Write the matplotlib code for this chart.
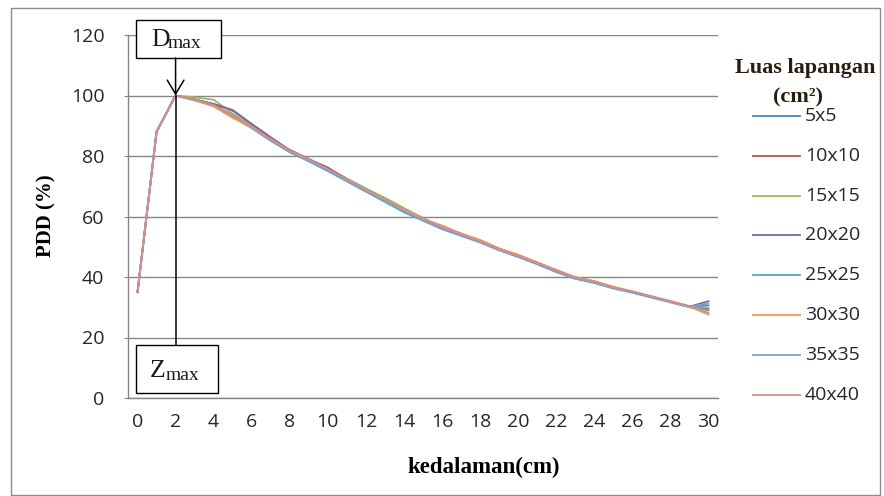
import matplotlib
matplotlib.use("Agg")
import matplotlib.pyplot as plt
from matplotlib.patches import Rectangle
from matplotlib.lines import Line2D

depth = list(range(0, 31))
tick_labels = [str(v) for v in range(0, 31, 2)]
field_sizes = ["5x5", "10x10", "15x15", "20x20", "25x25", "30x30", "35x35", "40x40"]

pdd_5x5 = [35, 88, 100, 98.8, 97.2, 95.0, 90.5, 86.0, 82.0, 79.0, 76.0, 72.5, 69.2, 65.8, 62.5, 59.5,
           56.2, 54.2, 52.0, 49.4, 47.2, 44.8, 42.0, 39.9, 38.6, 36.6, 35.0, 33.6, 32.0, 30.3, 30.6]
pdd_10x10 = [35, 88, 100, 98.5, 97.0, 93.5, 89.8, 85.8, 82.0, 79.0, 75.8, 72.4, 69.0, 65.8, 62.2, 59.2,
             56.8, 54.2, 52.0, 49.2, 47.2, 44.6, 42.0, 39.6, 38.4, 36.6, 35.2, 33.4, 31.8, 30.2, 29.6]
pdd_15x15 = [35, 88, 100, 99.4, 98.6, 94.0, 90.2, 85.8, 82.0, 79.0, 75.8, 72.4, 69.2, 66.2, 62.8, 59.4,
             56.6, 54.4, 52.2, 49.4, 47.0, 44.6, 42.0, 39.8, 38.4, 36.6, 35.2, 33.6, 32.0, 30.4, 29.2]
pdd_20x20 = [35, 88, 100, 98.6, 97.2, 95.2, 90.6, 86.2, 81.8, 78.8, 76.2, 72.2, 68.8, 65.6, 62.2, 59.0,
             56.2, 54.0, 51.8, 49.0, 47.0, 44.8, 42.2, 39.8, 38.4, 36.6, 35.0, 33.4, 31.8, 30.2, 32.0]
pdd_25x25 = [35, 88, 100, 98.4, 96.6, 93.0, 89.2, 85.0, 81.2, 78.2, 75.0, 71.6, 68.2, 64.8, 61.4, 58.6,
             55.8, 53.6, 51.4, 48.8, 46.6, 44.2, 41.6, 39.4, 38.0, 36.2, 34.8, 33.2, 31.6, 30.0, 29.0]
pdd_30x30 = [35, 88, 100, 98.4, 96.4, 92.6, 89.4, 85.4, 81.6, 78.6, 75.6, 72.2, 68.8, 65.6, 62.4, 59.2,
             57.0, 54.4, 52.2, 49.4, 47.4, 44.8, 42.4, 40.0, 38.6, 36.8, 35.2, 33.6, 32.0, 30.2, 27.6]
pdd_35x35 = [35, 88, 100, 98.6, 96.8, 93.4, 89.6, 85.4, 81.6, 78.6, 75.4, 72.0, 68.6, 65.4, 62.0, 59.0,
             56.0, 53.8, 51.6, 49.0, 46.8, 44.4, 41.8, 39.6, 38.2, 36.4, 35.0, 33.4, 31.8, 30.2, 31.2]
pdd_40x40 = [35, 88, 100, 98.6, 96.8, 93.6, 89.6, 85.6, 81.8, 78.8, 75.6, 72.2, 68.8, 65.6, 62.2, 59.2,
             56.6, 54.2, 51.8, 49.2, 47.0, 44.6, 42.2, 39.8, 38.4, 36.6, 35.2, 33.6, 31.8, 30.2, 28.2]

series = [pdd_5x5, pdd_10x10, pdd_15x15, pdd_20x20, pdd_25x25, pdd_30x30, pdd_35x35, pdd_40x40]
colors = ["#4F81BD", "#C0504D", "#9BBB59", "#8064A2", "#4BACC6", "#F79646", "#7F9FD5", "#D88E8C"]

W, H = 884, 496
fig = plt.figure(figsize=(W / 100, H / 100), dpi=100)


def fx(px):
    return px / W


def fy(py):
    return 1 - py / H


# outer chart border
fig.patches.append(Rectangle((fx(11), fy(495)), (880 - 11) / W, (495 - 8) / H,
                             transform=fig.transFigure, fill=False,
                             edgecolor="#8c8c8c", linewidth=1.0))

ax = fig.add_axes([fx(128), fy(398), (718 - 128) / W, (398 - 35) / H])

for vals, c, lab in zip(series, colors, field_sizes):
    ax.plot(depth, vals, color=c, linewidth=1.3, label=lab)

ax.set_xlim(-0.5, 30.5)
ax.set_ylim(0, 120)
ax.set_yticks(range(0, 121, 20))
ax.set_xticks(range(0, 31, 2))
ax.set_xticklabels(tick_labels)
ax.minorticks_off()
ax.grid(axis='y', color="#868686", linewidth=1.0)
ax.set_axisbelow(True)
for s in ['top', 'right']:
    ax.spines[s].set_visible(False)
for s in ['left', 'bottom']:
    ax.spines[s].set_color("#868686")
    ax.spines[s].set_linewidth(1.0)

TICK_FS = 14
ax.tick_params(axis='y', which='both', length=3, color="#868686", pad=14, labelcolor="#262626")
ax.tick_params(axis='x', which='both', length=0, pad=11, labelcolor="#262626")
for lbl in ax.get_xticklabels() + ax.get_yticklabels():
    lbl.set_fontfamily("Open Sans")
    lbl.set_fontsize(TICK_FS)

fig.text(fx(46), fy(216), "PDD (%)", rotation=90, ha='center', va='center',
         family="Liberation Serif", weight='bold', fontsize=15)
fig.text(fx(484), fy(467), "kedalaman(cm)", ha='center', va='center',
         family="Liberation Serif", weight='bold', fontsize=16.5)

# Dmax / Zmax annotations
dmax_box = Rectangle((-0.1, 112.4), 4.5, 12.6, fill=True, facecolor='white',
                     edgecolor='black', linewidth=1.0, clip_on=False, zorder=5)
ax.add_patch(dmax_box)
fig.text(fx(151), fy(46), "D", ha='left', va='baseline', fontsize=18.5,
         family="Liberation Serif", color="#1a1a1a", zorder=6)
fig.text(fx(168), fy(48), "max", ha='left', va='baseline', fontsize=14,
         family="Liberation Serif", color="#1a1a1a", zorder=6)
ax.annotate("", xy=(2, 100), xytext=(2, 112.4),
            arrowprops=dict(arrowstyle="->,head_length=1.0,head_width=0.6",
                            color='black', linewidth=1.1, shrinkA=0, shrinkB=0), zorder=6)
ax.plot([2, 2], [100, 17.5], color='black', linewidth=1.1, zorder=6)
zmax_box = Rectangle((-0.1, 1.6), 4.35, 15.9, fill=True, facecolor='white',
                     edgecolor='black', linewidth=1.0, clip_on=False, zorder=5)
ax.add_patch(zmax_box)
fig.text(fx(150), fy(377), "Z", ha='left', va='baseline', fontsize=18.5,
         family="Liberation Serif", color="#1a1a1a", zorder=6)
fig.text(fx(166), fy(380), "max", ha='left', va='baseline', fontsize=14,
         family="Liberation Serif", color="#1a1a1a", zorder=6)

# legend (manual, Excel-like)
fig.text(fx(735), fy(68), "Luas lapangan", ha='left', va='center',
         family="Liberation Serif", weight='bold', fontsize=16, color="#2b1d0e")
fig.text(fx(798), fy(97), "(cm²)", ha='center', va='center',
         family="Liberation Serif", weight='bold', fontsize=16, color="#2b1d0e")
for i, (c, lab) in enumerate(zip(colors, field_sizes)):
    y = fy(116 + 39.8 * i)
    fig.add_artist(Line2D([fx(753), fx(800)], [y, y], color=c, linewidth=1.3,
                          transform=fig.transFigure))
    fig.text(fx(805), y, lab, ha='left', va='center', family="Open Sans",
             fontsize=TICK_FS, color="#262626")

fig.savefig("out.png", dpi=100)
